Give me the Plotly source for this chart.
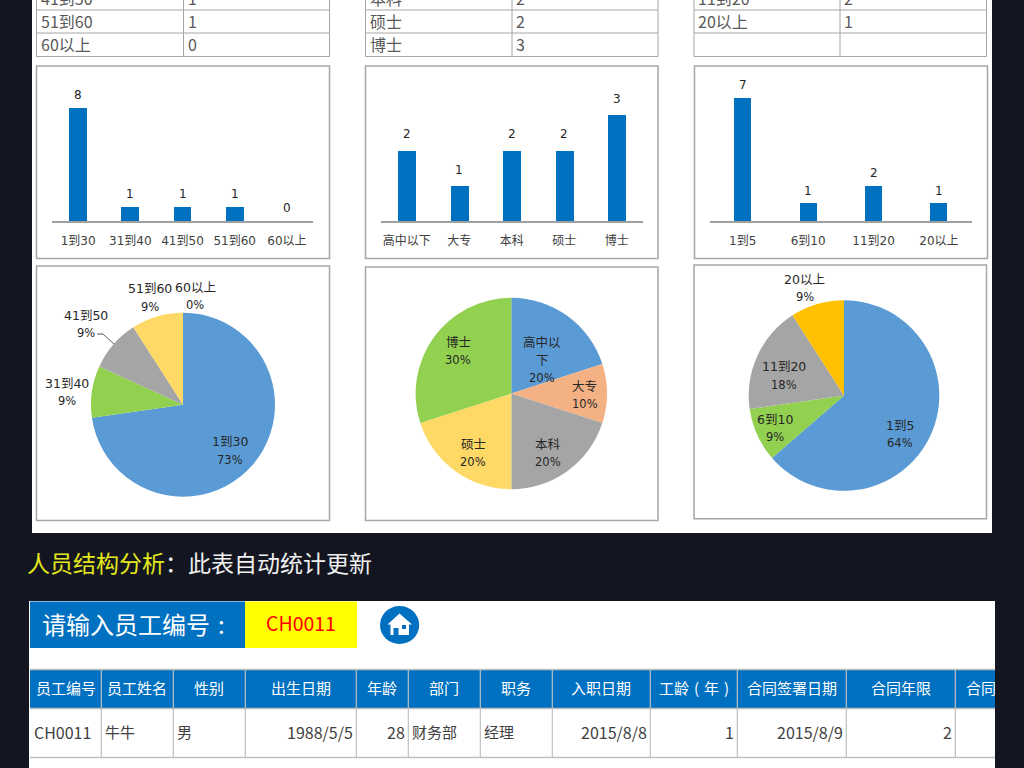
# plot.py
import plotly.graph_objects as go

W, H = 1024, 768
FONT = "Noto Sans CJK SC"
CHART_FONT = "DejaVu Sans, Noto Sans CJK SC"

# --- dados ---
AGE_LABELS = ["1到30", "31到40", "41到50", "51到60", "60以上"]
AGE_VALUES = [8, 1, 1, 1, 0]
EDU_LABELS = ["高中以下", "大专", "本科", "硕士", "博士"]
EDU_VALUES = [2, 1, 2, 2, 3]
TENURE_LABELS = ["1到5", "6到10", "11到20", "20以上"]
TENURE_VALUES = [7, 1, 2, 1]

HEADERS = ["员工编号", "员工姓名", "性别", "出生日期", "年龄", "部门", "职务",
           "入职日期", "工龄\u2004(\u2004年\u2004)", "合同签署日期", "合同年限"]
ROW = ["CH0011", "牛牛", "男", "1988/5/5", "28", "财务部", "经理",
       "2015/8/8", "1", "2015/8/9", "2"]

# --- cores ---
BLUE = "#0070C0"
BG = "#131620"
LINE = "#A6A6A6"
TEXT = "#404040"
AGE_COLORS = ["#5B9BD5", "#92D050", "#A5A5A5", "#FFD966", "#FFC000"]
EDU_COLORS = ["#5B9BD5", "#F4B183", "#A5A5A5", "#FFD966", "#92D050"]
TENURE_COLORS = ["#5B9BD5", "#92D050", "#A5A5A5", "#FFC000"]


def px_x(x):
    return x / W


def px_y(y):
    return 1 - y / H


shapes = []
annotations = []


def rect(x0, y0, x1, y1, fill=None, line=None, width=1):
    shapes.append(dict(
        type="rect", xref="paper", yref="paper", layer="below",
        x0=px_x(x0), x1=px_x(x1), y0=px_y(y0), y1=px_y(y1),
        fillcolor=fill or "rgba(0,0,0,0)",
        line=dict(color=line or "rgba(0,0,0,0)", width=width if line else 0),
    ))


def seg(x0, y0, x1, y1, color=LINE, width=1):
    shapes.append(dict(
        type="line", xref="paper", yref="paper", layer="below",
        x0=px_x(x0), x1=px_x(x1), y0=px_y(y0), y1=px_y(y1),
        line=dict(color=color, width=width),
    ))


def label(x, y, text, size=12, color="#262626", anchor="center", family=FONT, **kw):
    # o texto fica 1.5 px abaixo do centro pedido
    annotations.append(dict(
        x=px_x(x), y=px_y(y - 1.5), xref="paper", yref="paper", text=text, showarrow=False,
        xanchor=anchor, yanchor="middle", borderpad=0, borderwidth=0,
        font=dict(family=family, size=size, color=color), **kw,
    ))


# fundo branco
rect(32, -2, 992, 533, fill="white")
rect(29, 601, 995, 770, fill="white")

# tabelas do topo (só as últimas linhas aparecem)
tables = [
    (36.5, 183.5, 329.5, AGE_LABELS[2:], AGE_VALUES[2:]),
    (365.5, 512, 658, EDU_LABELS[2:], EDU_VALUES[2:]),
    (694, 840, 986.5, TENURE_LABELS[2:] + [""], TENURE_VALUES[2:] + [""]),
]
ROW_Y = [-1, 22, 45]
for x0, xm, x1, names, vals in tables:
    rect(x0, -5, x1, 56.5, line=LINE)
    seg(xm, -5, xm, 56.5)
    seg(x0, 10, x1, 10)
    seg(x0, 33, x1, 33)
    for y, n, v in zip(ROW_Y, names, vals):
        if n != "":
            label(x0 + 4, y, n, size=16, color="#595959", anchor="left")
            label(xm + 4, y, str(v), size=16, color="#595959", anchor="left")

fig = go.Figure()

# barras: rótulos, valores, moldura, eixo, topo do eixo y, largura relativa, nome do eixo, folga do rótulo
bar_charts = [
    (AGE_LABELS, AGE_VALUES, (36.5, 66, 329.5, 258.5), (52, 313), 10, 0.34, "", 13),
    (EDU_LABELS, EDU_VALUES, (365.5, 66, 658, 258.5), (380.5, 643), 4, 0.34, "2", 16),
    (TENURE_LABELS, TENURE_VALUES, (694.5, 66, 987.5, 258.5), (710, 971.7), 8, 0.26, "3", 12.5),
]
BASE_Y = 221
layout_axes = {}
for names, vals, frame, span, ymax, bw, ax, gap in bar_charts:
    rect(frame[0], frame[1], frame[2], frame[3], fill="white", line=LINE, width=1.5)
    fig.add_trace(go.Bar(
        x=names, y=vals, width=bw, marker=dict(color=BLUE, line=dict(width=0)),
        xaxis="x" + ax, yaxis="y" + ax, showlegend=False,
    ))
    for n, v in zip(names, vals):
        annotations.append(dict(
            x=n, y=v, xref="x" + ax, yref="y" + ax, text=str(v), showarrow=False,
            xanchor="center", yanchor="middle", yshift=gap, borderpad=0,
            font=dict(family=CHART_FONT, size=12, color="#262626"),
        ))
    layout_axes["xaxis" + ax] = dict(
        domain=[px_x(span[0]), px_x(span[1])], anchor="y" + ax, type="category",
        showgrid=False, zeroline=False, showline=True, linecolor="#A0A0A0", linewidth=1.5,
        ticks="outside", ticklen=8, tickcolor="rgba(0,0,0,0)",
        tickfont=dict(family=CHART_FONT, size=12, color="#404040"),
    )
    layout_axes["yaxis" + ax] = dict(
        domain=[px_y(BASE_Y), px_y(BASE_Y - 141)], anchor="x" + ax, range=[0, ymax],
        visible=False,
    )

# pizzas
pie_charts = [
    (AGE_LABELS, AGE_VALUES, AGE_COLORS, (36.5, 266, 329.5, 520.5), (183, 404.7, 92)),
    (EDU_LABELS, EDU_VALUES, EDU_COLORS, (365.5, 267, 658, 520.5), (511.3, 393.5, 95.7)),
    (TENURE_LABELS, TENURE_VALUES, TENURE_COLORS, (694, 265, 986.5, 518.7), (844, 395.5, 95.3)),
]
# centro de cada rótulo, em pixels
PIE_LABEL_POS = [
    [(230, 450.5), (67, 392), (86, 324), (149.5, 298), (195, 296)],
    [(542, 360), (584.7, 395), (548, 453), (473, 453), (458.3, 351)],
    [(900, 434), (775, 428), (783.7, 376), (804.7, 288)],
]
for (names, vals, colors, frame, circ), pos in zip(pie_charts, PIE_LABEL_POS):
    rect(frame[0], frame[1], frame[2], frame[3], fill="white", line=LINE, width=1.5)
    cx, cy, r = circ
    fig.add_trace(go.Pie(
        labels=names, values=vals, sort=False, direction="clockwise", rotation=0,
        marker=dict(colors=colors, line=dict(width=0)), textinfo="none",
        domain=dict(x=[px_x(cx - r), px_x(cx + r)], y=[px_y(cy + r), px_y(cy - r)]),
        showlegend=False,
    ))
    total = sum(vals)
    for n, v, (lx, ly) in zip(names, vals, pos):
        lines = ["高中以", "下"] if n == "高中以下" else [n]
        top = ly + 1.5 - 18 * len(lines) / 2
        for k, t in enumerate(lines):
            label(lx, top + 18 * k, t, size=12.5, family=CHART_FONT)
        label(lx, top + 18 * len(lines), f"{round(v / total * 100)}%", size=11.5, family=CHART_FONT)

# linha guia do 41到50
shapes.append(dict(
    type="path", xref="paper", yref="paper", layer="above",
    path=f"M{px_x(97)},{px_y(334)} L{px_x(103)},{px_y(334)} L{px_x(114)},{px_y(344)}",
    line=dict(color="#595959", width=1),
))

# título da seção
label(27, 563, '<span style="color:#E4E81C">人员结构分析</span>：此表自动统计更新',
      size=23, color="#F0F0F0", anchor="left")

# caixa de entrada
rect(30, 601.5, 245, 648, fill=BLUE)
rect(245, 601.5, 357, 648, fill="#FFFF00")
label(42, 625, "请输入员工编号\u2004:", size=24, color="white", anchor="left")
label(301, 624, "CH0011", size=19.5, color="#FF0000")

# ícone da casa
shapes.append(dict(type="circle", xref="paper", yref="paper", layer="above",
                   x0=px_x(380), x1=px_x(419.2), y0=px_y(644), y1=px_y(606),
                   fillcolor=BLUE, line=dict(width=0)))


def poly(points, fill):
    d = "M" + " L".join(f"{px_x(x)},{px_y(y)}" for x, y in points) + " Z"
    shapes.append(dict(type="path", xref="paper", yref="paper", layer="above",
                       path=d, fillcolor=fill, line=dict(width=0)))


poly([(399.5, 613.5), (412, 624.5), (409, 624.5), (409, 635), (390.5, 635),
      (390.5, 624.5), (387.5, 624.5)], "white")
poly([(393.5, 628), (398.5, 628), (398.5, 635), (393.5, 635)], BLUE)
poly([(402, 625), (406, 625), (406, 629), (402, 629)], BLUE)

# tabela de baixo
COL_X = [30, 101.3, 173.3, 245.3, 356.3, 408.3, 480.3, 552.3, 650.3, 737.3, 846.3, 955.3]
TOP, HEAD, BOTTOM = 669.5, 708.5, 757.5
COL_ALIGN = ["left", "left", "left", "right", "right", "left", "left",
             "right", "right", "right", "right"]
rect(30, TOP, 995, HEAD, fill=BLUE)
seg(30, TOP, 995, TOP, color="#BFBFBF", width=1.5)
seg(30, HEAD, 995, HEAD, color="#BFBFBF", width=1.5)
seg(30, BOTTOM, 995, BOTTOM, color="#BFBFBF", width=1.5)
for x in COL_X[1:]:
    seg(x, TOP, x, BOTTOM, color="#BFBFBF", width=1.2)
for i, (h, v, al) in enumerate(zip(HEADERS, ROW, COL_ALIGN)):
    x0, x1 = COL_X[i], COL_X[i + 1]
    label((x0 + x1) / 2, 689, h, size=15, color="white")
    # letras latinas um pouco maiores que os caracteres chineses
    size = 16 if v.isascii() else 15
    if al == "left":
        label(x0 + 3.5, 733, v, size=size, color=TEXT, anchor="left")
    else:
        label(x1 - 3.5, 733, v, size=size, color=TEXT, anchor="right")
# coluna cortada na borda direita
label(966, 689, "合同", size=15, color="white", anchor="left")
label(1009.5, 689, " ", size=15, bgcolor=BG, width=29, height=24)

fig.update_layout(
    width=W, height=H, margin=dict(l=0, r=0, t=0, b=0),
    paper_bgcolor=BG, plot_bgcolor="rgba(0,0,0,0)",
    font=dict(family=FONT), shapes=shapes, annotations=annotations,
    bargap=0, **layout_axes,
)

fig.write_html("out.html", config={"displayModeBar": False},
               post_script="document.body.style.margin='0';")
